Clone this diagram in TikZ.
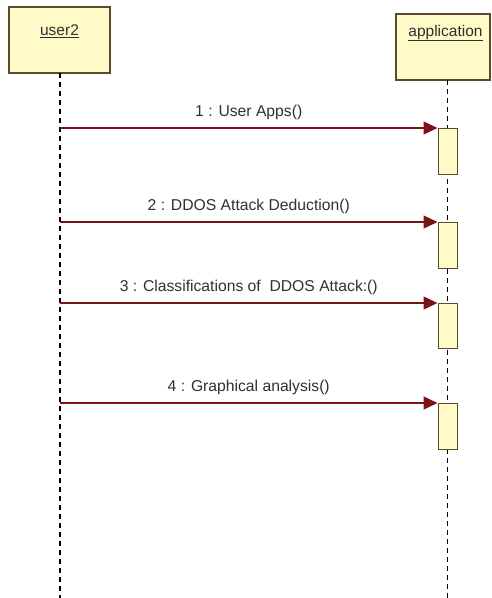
\documentclass[tikz,border=0pt]{standalone}
\usepackage{fontspec}
\setmainfont{Liberation Sans}
\usepackage{xcolor}
\usetikzlibrary{arrows.meta,positioning}
\definecolor{boxfill}{HTML}{FFFAC8}
\definecolor{boxline}{HTML}{5C4A2E}
\definecolor{msgred}{HTML}{7A1418}
\definecolor{txtgray}{HTML}{303030}
\tikzset{
  head/.style    ={rectangle,draw=boxline,fill=boxfill,line width=1.2pt,inner sep=0pt},
  headlbl/.style ={text=txtgray,font=\fontsize{15.5}{17}\selectfont,inner sep=0pt},
  actbox/.style  ={rectangle,draw=boxline,fill=boxfill,line width=1.2pt,inner sep=0pt,
                   minimum width=19pt,minimum height=46pt,anchor=north west},
  lifeline/.style={black,line width=1.2pt,dash pattern=on 5pt off 4pt},
  msg/.style     ={msgred,line width=1.3pt,-{Triangle[length=14pt,width=13pt]}},
  msglbl/.style  ={text=txtgray,font=\fontsize{15.7}{17}\selectfont,inner sep=0pt,above=8pt},
}
\begin{document}
\begin{tikzpicture}[x=1pt,y=-1pt]
  \useasboundingbox (0,0) rectangle (492,598);
  % lifeline heads
  \node[head,minimum width=101pt,minimum height=66pt] (user2) at (59.5,40) {};
  \node[headlbl] (user2lbl) at (59.5,31) {\underline{user2}};
  \node[head,minimum width=94pt,minimum height=66pt] (app) at (443,47) {};
  \node[headlbl] (applbl) at (445.5,33) {\underline{application}};
  % lifelines
  \coordinate (u2top) at (60,73);
  \coordinate (u2end) at (60,598);
  \coordinate (aptop) at (447.5,80);
  \coordinate (apend) at (447.5,598);
  \draw[lifeline] (u2top) -- (u2end);
  \draw[lifeline] (aptop) -- (apend);
  % activations on application
  \node[actbox] (act1) at (437.5,128) {};
  \node[actbox] (act2) at (437.5,222) {};
  \node[actbox,minimum height=45pt] (act3) at (437.5,303) {};
  \node[actbox] (act4) at (437.5,403) {};
  % senders on user2
  \coordinate (s1) at (60,128);
  \coordinate (s2) at (60,222);
  \coordinate (s3) at (60,303);
  \coordinate (s4) at (60,403);
  % messages
  \draw[msg] (s1) -- node[msglbl] {1 : User Apps()} (act1.north west);
  \draw[msg] (s2) -- node[msglbl] {2 : DDOS Attack Deduction()} (act2.north west);
  \draw[msg] (s3) -- node[msglbl] {3 : Classifications of\ \ DDOS Attack:()} (act3.north west);
  \draw[msg] (s4) -- node[msglbl] {4 : Graphical analysis()} (act4.north west);
\end{tikzpicture}
\end{document}
